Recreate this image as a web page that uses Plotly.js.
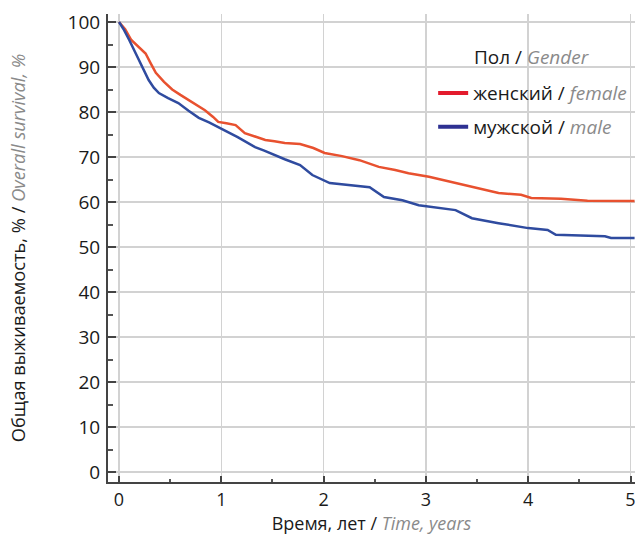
<!DOCTYPE html>
<html>
<head>
<meta charset="utf-8">
<script src="https://cdn.plot.ly/plotly-3.0.1.min.js"></script>
<style>html,body{margin:0;padding:0;background:#fff}</style>
</head>
<body>
<div id="chart" style="width:635px;height:535px"></div>
<script>
// Time, years / survival, %
var tFemale = [0, 0.06, 0.12, 0.19, 0.26, 0.31, 0.36, 0.44, 0.52, 0.6, 0.68, 0.76, 0.84, 0.92, 0.97, 1.05, 1.14, 1.23, 1.33, 1.43, 1.52, 1.62, 1.77, 1.9, 2.01, 2.18, 2.35, 2.54, 2.7, 2.83, 3.03, 3.22, 3.37, 3.51, 3.71, 3.93, 4.03, 4.32, 4.58, 5.04];
var sFemale = [100, 98.4, 96, 94.6, 93, 90.8, 88.7, 86.7, 85, 83.8, 82.7, 81.5, 80.4, 78.9, 77.8, 77.5, 77.1, 75.3, 74.6, 73.8, 73.5, 73.1, 72.9, 72, 70.9, 70.2, 69.3, 67.8, 67.1, 66.4, 65.6, 64.6, 63.9, 63.1, 62, 61.6, 60.9, 60.7, 60.3, 60.2];
var tMale = [0, 0.05, 0.1, 0.15, 0.19, 0.24, 0.29, 0.34, 0.39, 0.48, 0.58, 0.68, 0.78, 0.88, 0.97, 1.06, 1.16, 1.25, 1.33, 1.42, 1.5, 1.62, 1.77, 1.89, 2.06, 2.25, 2.45, 2.59, 2.77, 2.93, 3.13, 3.29, 3.45, 3.58, 3.71, 4.0, 4.19, 4.27, 4.75, 4.81, 5.04];
var sMale = [100, 98.2, 96, 93.7, 91.6, 89.3, 87.1, 85.4, 84.2, 83.1, 82, 80.3, 78.7, 77.7, 76.7, 75.6, 74.4, 73.2, 72.2, 71.4, 70.6, 69.5, 68.2, 66, 64.2, 63.8, 63.3, 61.1, 60.4, 59.3, 58.7, 58.2, 56.4, 55.8, 55.3, 54.2, 53.8, 52.7, 52.4, 52, 52];

var nameFemale = 'женский / <i><span style="color:#8a8a8a">female</span></i>';
var nameMale = 'мужской / <i><span style="color:#8a8a8a">male</span></i>';
var legendTitle = 'Пол / <i><span style="color:#8a8a8a">Gender</span></i>';
var xTitle = 'Время, лет / <i><span style="color:#8a8a8a">Time, years</span></i>';
var yTitle = 'Общая выживаемость, % / <i><span style="color:#8a8a8a">Overall survival, %</span></i>';
var xTicks = [0, 1, 2, 3, 4, 5];
var yTicks = [0, 10, 20, 30, 40, 50, 60, 70, 80, 90, 100];

var FONT = 'Open Sans, Noto Sans, sans-serif';

var traces = [
  {x: tFemale, y: sFemale, mode: 'lines', line: {color: '#e8512f', width: 2.5}, showlegend: false, hoverinfo: 'skip'},
  {x: tMale, y: sMale, mode: 'lines', line: {color: '#2f4b9f', width: 2.5}, showlegend: false, hoverinfo: 'skip'},
  {x: [null], y: [null], mode: 'lines', name: nameFemale, line: {color: '#e31b2d', width: 4}, legend: 'legend'},
  {x: [null], y: [null], mode: 'lines', name: nameMale, line: {color: '#2e3192', width: 4}, legend: 'legend2'}
];

var layout = {
  width: 635, height: 535,
  margin: {l: 108, r: 0, t: 14, b: 53},
  paper_bgcolor: '#fff', plot_bgcolor: '#fff',
  font: {family: FONT, size: 18, color: '#1a1a1a'},
  xaxis: {
    range: [-0.1075, 5.044], tickvals: xTicks, showgrid: true, gridcolor: '#d2d2d2', gridwidth: 1.5,
    zeroline: false, showline: true, linecolor: '#444', linewidth: 2, ticks: 'inside', ticklen: 6, tickwidth: 2, tickcolor: '#444',
    minor: {dtick: 0.5, tick0: 0, ticks: 'inside', ticklen: 3, tickwidth: 2, tickcolor: '#555', showgrid: false},
    tickfont: {size: 18, color: '#1a1a1a'}, ticklabeloverflow: 'allow',
    title: {text: xTitle, font: {size: 18, color: '#1a1a1a'}, standoff: 1}
  },
  yaxis: {
    range: [-2.22, 101.78], tickvals: yTicks, showgrid: true, gridcolor: '#d2d2d2', gridwidth: 1.5,
    zeroline: false, showline: true, linecolor: '#444', linewidth: 2, ticks: 'inside', ticklen: 8, tickwidth: 2, tickcolor: '#444',
    minor: {dtick: 5, tick0: 0, ticks: 'inside', ticklen: 5, tickwidth: 2, tickcolor: '#555', showgrid: false},
    tickfont: {size: 19, color: '#1a1a1a'}, ticklabelstandoff: 2,
    title: {text: yTitle, font: {size: 18.3, color: '#1a1a1a'}, standoff: 37}
  },
  legend: {
    x: 0.617, y: 0.831, xanchor: 'left', yanchor: 'middle', bgcolor: 'rgba(0,0,0,0)',
    font: {size: 19, color: '#1a1a1a'}, itemwidth: 30
  },
  legend2: {
    x: 0.617, y: 0.759, xanchor: 'left', yanchor: 'middle', bgcolor: 'rgba(0,0,0,0)',
    font: {size: 19, color: '#1a1a1a'}, itemwidth: 30
  },
  annotations: [
    {text: legendTitle, xref: 'paper', yref: 'paper', x: 0.805, y: 0.908, xanchor: 'center', yanchor: 'middle',
     showarrow: false, font: {size: 19, color: '#1a1a1a'}}
  ],
  showlegend: true
};

Plotly.newPlot('chart', traces, layout, {displayModeBar: false, staticPlot: true});
</script>
</body>
</html>
